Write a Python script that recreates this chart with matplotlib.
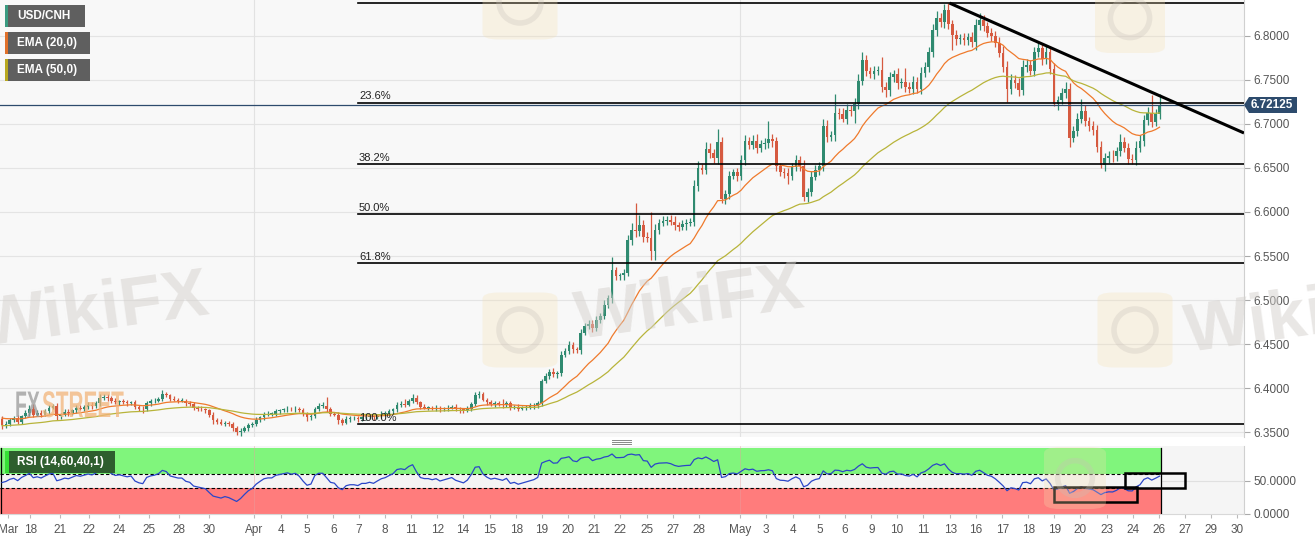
import matplotlib
matplotlib.use('Agg')
import matplotlib.pyplot as plt
from matplotlib.patches import Rectangle, FancyBboxPatch, Polygon, PathPatch, Ellipse
from matplotlib.textpath import TextPath
from matplotlib.font_manager import FontProperties
from matplotlib.transforms import Affine2D
import numpy as np

plt.rcParams['font.family'] = ['Liberation Sans', 'DejaVu Sans']

W, H = 1315, 541

# USD/CNH 4H candles, closes as pips above 6.0000 (open of a candle = previous close)
open_first = 6.3650
closes_pips = [
    3580, 3600, 3640, 3660, 3620, 3680, 3720, 3770, 3700, 3720,
    3700, 3740, 3780, 3800, 3680, 3700, 3730, 3720, 3750, 3780,
    3770, 3790, 3810, 3800, 3830, 3890, 3900, 3890, 3860, 3840,
    3850, 3840, 3830, 3840, 3790, 3770, 3760, 3830, 3850, 3860,
    3880, 3930, 3920, 3880, 3870, 3860, 3860, 3830, 3820, 3780,
    3770, 3760, 3750, 3700, 3640, 3620, 3600, 3610, 3590, 3550,
    3500, 3520, 3550, 3580, 3600, 3640, 3670, 3700, 3710, 3710,
    3740, 3750, 3760, 3770, 3760, 3770, 3750, 3710, 3670, 3680,
    3770, 3800, 3800, 3760, 3710, 3700, 3640, 3610, 3650, 3660,
    3660, 3650, 3670, 3670, 3680, 3670, 3690, 3710, 3720, 3740,
    3760, 3810, 3820, 3815, 3860, 3890, 3840, 3790, 3780, 3780,
    3770, 3780, 3760, 3770, 3780, 3790, 3770, 3760, 3750, 3770,
    3820, 3920, 3930, 3870, 3840, 3820, 3830, 3820, 3810, 3830,
    3780, 3790, 3770, 3780, 3790, 3800, 3810, 3830, 4080, 4140,
    4190, 4160, 4170, 4380, 4420, 4490, 4440, 4430, 4630, 4710,
    4730, 4680, 4780, 4820, 4950, 5020, 5340, 5270, 5280, 5310,
    5680, 5800, 5780, 5850, 5720, 5710, 5560, 5800, 5880, 5900,
    5910, 5890, 5850, 5830, 5860, 5880, 5890, 6300, 6500, 6480,
    6720, 6670, 6610, 6790, 6150, 6200, 6410, 6450, 6410, 6590,
    6800, 6760, 6810, 6730, 6770, 6780, 6830, 6800, 6520, 6450,
    6440, 6410, 6510, 6590, 6520, 6170, 6230, 6400, 6480, 6520,
    6980, 6850, 6870, 7120, 7110, 7060, 7160, 7140, 7230, 7490,
    7720, 7600, 7570, 7600, 7610, 7420, 7380, 7530, 7560, 7460,
    7470, 7420, 7400, 7480, 7400, 7580, 7650, 7810, 8060, 8200,
    8150, 8290, 8130, 8010, 7960, 7970, 7950, 7980, 7930, 8120,
    8180, 8110, 8030, 8000, 7920, 7800, 7650, 7400, 7500, 7460,
    7380, 7650, 7670, 7600, 7810, 7860, 7730, 7820, 7620, 7220,
    7270, 7350, 7400, 6840, 6920, 7060, 7150, 7030, 6970, 6930,
    6740, 6530, 6610, 6640, 6630, 6690, 6790, 6730, 6600, 6590,
    6730, 6810, 7040, 7120, 7020, 7110, 7212.5,
]
upper_wick_pips = [
    40, 30, 20, 30, 40, 20, 30, 40, 50, 30,
    30, 20, 30, 20, 30, 20, 30, 30, 20, 30,
    30, 20, 30, 30, 20, 40, 30, 30, 20, 30,
    20, 30, 30, 20, 30, 20, 30, 20, 30, 30,
    20, 50, 30, 20, 30, 20, 30, 20, 30, 20,
    20, 30, 20, 20, 30, 20, 30, 20, 20, 30,
    20, 30, 20, 30, 20, 30, 20, 30, 30, 20,
    30, 20, 20, 30, 20, 30, 20, 30, 20, 30,
    20, 30, 40, 100, 30, 20, 30, 20, 30, 20,
    20, 30, 20, 20, 30, 20, 20, 30, 20, 30,
    20, 30, 40, 60, 20, 40, 30, 20, 30, 20,
    20, 30, 20, 20, 30, 20, 30, 20, 20, 30,
    20, 40, 40, 30, 20, 30, 20, 30, 60, 20,
    30, 20, 30, 20, 20, 30, 20, 20, 30, 30,
    30, 40, 30, 40, 40, 50, 40, 30, 40, 30,
    50, 40, 40, 30, 50, 40, 150, 40, 30, 40,
    60, 80, 300, 120, 60, 50, 290, 60, 40, 50,
    40, 60, 60, 40, 50, 40, 40, 60, 80, 50,
    70, 60, 50, 150, 60, 50, 60, 40, 50, 60,
    70, 50, 60, 80, 50, 60, 200, 60, 50, 40,
    50, 60, 50, 60, 50, 70, 40, 60, 50, 50,
    80, 60, 50, 220, 60, 70, 60, 50, 60, 70,
    90, 60, 50, 60, 50, 150, 60, 60, 50, 70,
    50, 160, 60, 60, 50, 60, 50, 60, 70, 80,
    60, 70, 80, 50, 60, 50, 60, 50, 60, 70,
    80, 60, 50, 60, 50, 70, 80, 60, 70, 50,
    60, 70, 60, 50, 60, 70, 60, 80, 60, 70,
    50, 60, 80, 60, 50, 60, 130, 60, 50, 60,
    60, 70, 60, 50, 60, 50, 100, 60, 50, 60,
    70, 60, 60, 70, 210, 60, 130,
]
lower_wick_pips = [
    40, 30, 30, 20, 30, 30, 20, 30, 30, 20,
    30, 20, 30, 20, 40, 30, 20, 30, 20, 30,
    20, 30, 20, 30, 20, 30, 20, 30, 30, 20,
    30, 20, 30, 20, 30, 30, 40, 20, 30, 20,
    20, 30, 20, 30, 20, 30, 20, 30, 20, 30,
    30, 20, 30, 30, 40, 30, 20, 30, 20, 30,
    30, 40, 20, 30, 20, 30, 20, 30, 20, 30,
    20, 30, 20, 30, 20, 30, 20, 30, 40, 30,
    20, 30, 20, 30, 30, 20, 40, 30, 20, 30,
    20, 30, 20, 30, 20, 30, 20, 30, 20, 30,
    20, 30, 20, 30, 20, 30, 20, 30, 20, 30,
    20, 30, 30, 20, 30, 20, 30, 40, 30, 20,
    30, 20, 30, 20, 30, 20, 30, 20, 30, 20,
    30, 20, 30, 20, 30, 20, 30, 30, 30, 20,
    30, 30, 40, 30, 30, 30, 40, 30, 40, 30,
    40, 40, 30, 40, 30, 40, 50, 40, 40, 50,
    40, 50, 60, 50, 60, 50, 110, 110, 50, 40,
    50, 40, 60, 50, 40, 60, 40, 50, 60, 50,
    50, 60, 50, 60, 50, 60, 50, 40, 60, 50,
    60, 50, 40, 60, 50, 60, 50, 60, 50, 40,
    50, 90, 50, 40, 50, 40, 60, 50, 40, 60,
    50, 60, 50, 60, 50, 40, 60, 50, 130, 60,
    50, 60, 50, 60, 50, 60, 70, 60, 50, 60,
    50, 60, 50, 60, 50, 60, 50, 60, 50, 60,
    50, 60, 50, 170, 60, 50, 60, 50, 60, 90,
    50, 60, 50, 60, 50, 40, 60, 150, 60, 50,
    60, 50, 60, 50, 60, 50, 60, 50, 60, 20,
    60, 50, 60, 100, 50, 60, 50, 60, 50, 60,
    60, 30, 60, 50, 60, 50, 60, 50, 60, 50,
    60, 50, 60, 50, 60, 50, 60,
]

# indicator seeds (values carried in from before the visible window)
ema_fast_seed = 6.3670
ema_slow_seed = 6.3575
rsi_seed_gain = 24.0   # pips
rsi_seed_loss = 21.0

# fibonacci retracement and trendline anchors
fib_high = 6.8370
fib_low = 6.3590
fib_levels = [0.0, 23.6, 38.2, 50.0, 61.8, 100.0]
fib_start = 91
trend_start = (242.3, 6.8370)
trend_end = (317.6, 6.6896)
last_price = 6.72125

# date axis
tick_pos = [1.5, 7.2, 14.8, 22.3, 29.9, 37.6, 45.3, 52.9, 64.5, 71.4, 78.0, 84.7,
            91.3, 98.0, 104.6, 111.3, 117.9, 124.8, 131.5, 138.1, 144.8, 151.4,
            158.1, 165.0, 171.6, 178.3, 188.7, 195.4, 202.3, 209.0, 215.6, 222.3,
            228.9, 235.6, 242.5, 249.1, 255.8, 262.4, 269.1, 275.7, 282.6, 289.3,
            295.9, 302.6, 309.2, 315.9]
tick_labels = ['Mar', '18', '21', '22', '24', '25', '28', '30', 'Apr', '4', '5', '6',
               '7', '8', '11', '12', '14', '15', '18', '19', '20', '21',
               '22', '25', '27', '28', 'May', '3', '4', '5', '6', '9',
               '10', '11', '13', '16', '17', '18', '19', '20', '23', '24',
               '26', '27', '29', '30']
month_lines = [64.5, 188.7]
price_ticks = [6.35, 6.40, 6.45, 6.50, 6.55, 6.60, 6.65, 6.70, 6.75, 6.80]

# annotation boxes drawn on the RSI pane
rsi_boxes = [(269.1, 18.6, 290.3, 41.4), (287.2, 39.8, 302.6, 62.6)]

# ---------------------------------------------------------------------------
closes = 6 + np.array(closes_pips) / 10000.0
opens = np.concatenate([[open_first], closes[:-1]])
highs = np.maximum(opens, closes) + np.array(upper_wick_pips) / 10000.0
lows = np.minimum(opens, closes) - np.array(lower_wick_pips) / 10000.0
n = len(closes)
idx = np.arange(n)


def ema(values, span, seed):
    a = 2.0 / (span + 1)
    out, e = [], seed
    for v in values:
        e = e + a * (v - e)
        out.append(e)
    return np.array(out)


ema20 = ema(closes, 20, ema_fast_seed)
ema50 = ema(closes, 50, ema_slow_seed)

g, l = rsi_seed_gain / 10000.0, rsi_seed_loss / 10000.0
rsi = []
for d in closes - opens:
    g = (g * 13 + max(d, 0)) / 14
    l = (l * 13 + max(-d, 0)) / 14
    rsi.append(100 - 100 / (1 + g / l))
rsi = np.array(rsi)

GREEN = '#2f8a70'
RED = '#d65a40'
XMIN, XMAX = -0.51, 317.6


def fx(px):
    return px / W


def fy(py):
    return 1 - py / H


fig = plt.figure(figsize=(W / 100, H / 100), dpi=100)
fig.patch.set_facecolor('white')

ax = fig.add_axes([0, fy(437), fx(1244), 437 / H])
ax.set_facecolor('#f8f8f8')
ax.set_xlim(XMIN, XMAX)
ax.set_ylim(6.3447, 6.8405)

for p in price_ticks:
    ax.axhline(p, color='#e4e4e4', lw=0.8, zorder=0)
for m in month_lines:
    ax.axvline(m, color='#e2e2e2', lw=0.8, zorder=0)

# watermarks
for (tx, ty, fs) in [(95, 312, 50), (690, 305, 50), (1300, 318, 50)]:
    fig.text(fx(tx), fy(ty), 'WikiFX', fontsize=fs, fontweight='bold', color='#d4d0cc',
             alpha=0.5, ha='center', va='center', rotation=8, zorder=0.5)
for (lx, ly, s) in [(520, 330, 75), (1135, 330, 75), (520, 2, 75), (1130, 18, 70), (1075, 478, 62)]:
    fig.add_artist(FancyBboxPatch((fx(lx - s / 2), fy(ly + s / 2)), s / W, s / H,
                                  boxstyle='round,pad=0,rounding_size=0.012',
                                  fc='#f5e0b0', ec='none', alpha=0.28, zorder=0.5))
    r = 0.28 * s
    fig.add_artist(Ellipse((fx(lx), fy(ly)), 2 * r / W, 2 * r / H, fc='none', ec='#c8c0b8',
                           lw=4, alpha=0.3, zorder=0.55))

fp = FontProperties(family='Liberation Sans', weight='bold')
for word, x0, col in [('FX', 15, '#9a9a9a'), ('STREET', 42, '#f2b47a')]:
    tp = TextPath((0, 0), word, size=37, prop=fp)
    sx = 27.0 / 37 * 0.72 if word == 'FX' else 81.0 / tp.get_extents().width
    fig.add_artist(PathPatch(tp, transform=Affine2D().scale(sx, 1.0).translate(x0, H - 417),
                             fc=col, ec='none', alpha=0.75, zorder=0.6))

# candles
up = closes >= opens
body_lo = np.minimum(opens, closes)
body_h = np.maximum(np.abs(closes - opens), 0.0007)
colors = np.where(up, GREEN, RED)
ax.vlines(idx, lows, highs, colors=colors, lw=0.9, zorder=3)
ax.bar(idx, body_h, bottom=body_lo, width=0.68, color=colors, lw=0, zorder=4)

ax.plot(idx, ema20, color='#ef7a2c', lw=0.9, zorder=5)
ax.plot(idx, ema50, color='#b8b43a', lw=0.9, zorder=5)

# fibonacci
for lv in fib_levels:
    y = fib_high - (fib_high - fib_low) * lv / 100.0
    ax.plot([fib_start, XMAX], [y, y], color='black', lw=1.2, zorder=6)
    ax.text(fib_start + 0.3, y + 0.0012, f'{lv:.1f}%', fontsize=8, color='#222222',
            ha='left', va='bottom', zorder=6)

ax.axhline(last_price, color='#2d4b6d', lw=0.9, zorder=6)
ax.plot([trend_start[0], trend_end[0]], [trend_start[1], trend_end[1]], color='black',
        lw=2.2, solid_capstyle='butt', zorder=7)

ax.yaxis.tick_right()
ax.set_yticks(price_ticks)
ax.set_yticklabels([f'{p:.4f}' for p in price_ticks])
ax.tick_params(axis='y', length=4, color='#aaaaaa', labelsize=8.5, labelcolor='#555555', pad=3)
ax.set_xticks([])
for s in ['top', 'left', 'bottom']:
    ax.spines[s].set_visible(False)
ax.spines['right'].set_color('#d0d0d0')

# ---------------- RSI pane
rx = fig.add_axes([0, fy(514), fx(1244), (514 - 446) / H])
rx.set_facecolor('#f5f5f5')
rx.set_xlim(XMIN, XMAX)
rx.set_ylim(0, 103)
end = n - 0.5
rx.add_patch(Rectangle((XMIN, 60), end - XMIN, 40.6, fc='#80f57c', ec='none', zorder=1))
rx.add_patch(Rectangle((XMIN, 0), end - XMIN, 40, fc='#ff7c7c', ec='none', zorder=1))
rx.add_patch(Rectangle((XMIN, 40), end - XMIN, 20, fc='#f4f4f4', ec='none', zorder=1))
rx.plot([XMIN, end], [60, 60], color='black', lw=0.8, ls=(0, (3, 2)), zorder=3)
rx.plot([XMIN, end], [40, 40], color='black', lw=0.8, ls=(0, (3, 2)), zorder=3)
rx.plot([end, end], [0, 100.6], color='black', lw=0.9, zorder=3)
rx.plot([XMIN + 0.3, XMIN + 0.3], [0, 100.6], color='black', lw=0.9, zorder=3)
rx.axhline(50, color='#e0e0e0', lw=0.8, zorder=0.5)
for m in month_lines:
    rx.axvline(m, color='#e6a0a0', lw=0.6, alpha=0.5, zorder=2)
rx.plot(idx, rsi, color='#2a46c8', lw=0.9, zorder=4)
for (x0, y0, x1, y1) in rsi_boxes:
    rx.add_patch(Rectangle((x0, y0), x1 - x0, y1 - y0, fc='none', ec='black', lw=1.8, zorder=5))

rx.yaxis.tick_right()
rx.set_yticks([0, 50])
rx.set_yticklabels(['0.0000', '50.0000'])
rx.tick_params(axis='y', length=4, color='#aaaaaa', labelsize=8.5, labelcolor='#555555', pad=3)
rx.set_xticks(tick_pos)
rx.set_xticklabels(tick_labels)
rx.tick_params(axis='x', length=3, color='#bbbbbb', labelsize=8.5, labelcolor='#555555', pad=4)
for s in ['top', 'left']:
    rx.spines[s].set_visible(False)
rx.spines['right'].set_color('#d0d0d0')
rx.spines['bottom'].set_color('#d8d8d8')

# legend chips
for (label, y0, w, strip) in [('USD/CNH', 5, 80, '#3a9a80'), ('EMA (20,0)', 32, 85, '#e0702a'),
                              ('EMA (50,0)', 59, 85, '#b8a820')]:
    fig.add_artist(Rectangle((fx(5), fy(y0 + 22)), w / W, 22 / H, fc='#5f5f5f', ec='none', zorder=10))
    fig.add_artist(Rectangle((fx(5), fy(y0 + 22)), 3 / W, 22 / H, fc=strip, ec='none', zorder=11))
    fig.text(fx(17), fy(y0 + 11), label, fontsize=8.5, fontweight='bold', color='white',
             ha='left', va='center', zorder=12)
fig.add_artist(Rectangle((fx(5), fy(473)), 110 / W, 22 / H, fc='#2e5e2e', ec='none', zorder=10))
fig.add_artist(Rectangle((fx(5), fy(473)), 4 / W, 22 / H, fc='#36e036', ec='none', zorder=11))
fig.text(fx(17), fy(462), 'RSI (14,60,40,1)', fontsize=8.5, fontweight='bold', color='white',
         ha='left', va='center', zorder=12)

# last price tag
fig.add_artist(Polygon([(fx(1244), fy(105)), (fx(1249), fy(97)), (fx(1297), fy(97)),
                        (fx(1297), fy(113)), (fx(1249), fy(113))], closed=True,
                       fc='#2d4b6d', ec='none', zorder=10))
fig.text(fx(1272), fy(105), f'{last_price:.5f}', fontsize=8.5, fontweight='bold', color='white',
         ha='center', va='center', zorder=11)

# pane splitter grip
for gy in (439.5, 441.5, 443.5):
    fig.add_artist(plt.Line2D([fx(612), fx(631)], [fy(gy), fy(gy)], color='#888888', lw=0.7))

fig.savefig('out.png', dpi=100)
